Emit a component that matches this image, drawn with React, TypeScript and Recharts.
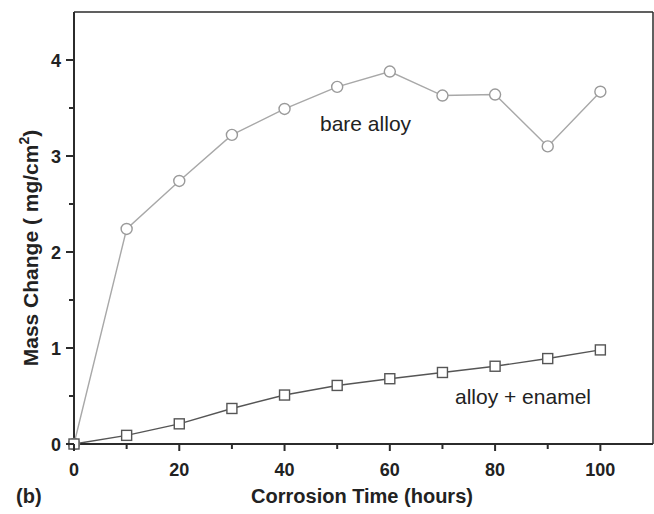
import { LineChart, Line, XAxis, YAxis, ReferenceLine, Customized } from 'recharts';

const hours = [0, 10, 20, 30, 40, 50, 60, 70, 80, 90, 100];
const bareAlloy = [0, 2.24, 2.74, 3.22, 3.49, 3.72, 3.88, 3.63, 3.64, 3.1, 3.67];
const alloyEnamel = [0, 0.09, 0.21, 0.37, 0.51, 0.61, 0.68, 0.745, 0.81, 0.89, 0.98];
const xTicks = [0, 10, 20, 30, 40, 50, 60, 70, 80, 90, 100, 110];
const yTicks = [0, 0.5, 1, 1.5, 2, 2.5, 3, 3.5, 4, 4.5];

const data = hours.map((h, i) => ({ h, bare: bareAlloy[i], enamel: alloyEnamel[i] }));

const FONT = '"Liberation Sans", Arial, sans-serif';
const AXIS = '#2b2b2b';

const XTick = (props: any) => {
  const { x, y, payload } = props;
  const v = payload.value;
  if (v === 110) return null;
  const major = v % 20 === 0;
  return (
    <g>
      <line x1={x} x2={x} y1={y} y2={y + (major ? 7 : 5)} stroke={AXIS} strokeWidth={2} />
      {major && (
        <text x={x} y={y + 32} textAnchor="middle" fontFamily={FONT} fontWeight="bold" fontSize={18} fill="#222">
          {v}
        </text>
      )}
    </g>
  );
};

const YTick = (props: any) => {
  const { x, y, payload } = props;
  const v = payload.value;
  if (v === 4.5) return null;
  const major = Number.isInteger(v);
  return (
    <g>
      <line x1={x} x2={x - (major ? 8 : 5)} y1={y} y2={y} stroke={AXIS} strokeWidth={2} />
      {major && (
        <text x={x - 13} y={y + 6.5} textAnchor="end" fontFamily={FONT} fontWeight="bold" fontSize={18} fill="#222">
          {v}
        </text>
      )}
    </g>
  );
};

const Circle = (props: any) => {
  const { cx, cy } = props;
  return <circle cx={cx} cy={cy} r={5.5} fill="#fff" stroke="#9a9a9a" strokeWidth={1.4} />;
};

const Square = (props: any) => {
  const { cx, cy } = props;
  return <rect x={cx - 5} y={cy - 5} width={10} height={10} fill="#fff" stroke="#555" strokeWidth={1.4} />;
};

const Texts = () => (
  <g fontFamily={FONT} fill="#222">
    <text x={320} y={131} fontSize={21}>bare alloy</text>
    <text x={455} y={404} fontSize={21}>alloy + enamel</text>
    <text x={16} y={503} fontSize={20} fontWeight="bold">(b)</text>
    <text x={362} y={503} fontSize={20} fontWeight="bold" textAnchor="middle">Corrosion Time (hours)</text>
    <text transform="translate(38,248) rotate(-90)" fontSize={21} fontWeight="bold" textAnchor="middle">
      Mass Change ( mg/cm
      <tspan fontSize={14} dy={-9}>2</tspan>
      <tspan dy={9}>)</tspan>
    </text>
  </g>
);

export default function App() {
  return (
    <div style={{ position: 'absolute', left: 0, top: 0, width: 654, height: 514, background: '#fff' }}>
      <LineChart width={654} height={514} data={data} margin={{ top: 12, right: 1, left: 0, bottom: 0 }}>
        <XAxis
          dataKey="h"
          type="number"
          domain={[0, 110]}
          ticks={xTicks}
          interval={0}
          height={70}
          tickSize={0}
          tickMargin={0}
          tick={<XTick />}
          stroke={AXIS}
          strokeWidth={2}
        />
        <YAxis
          type="number"
          domain={[0, 4.5]}
          ticks={yTicks}
          interval={0}
          width={74}
          tickSize={0}
          tickMargin={0}
          tick={<YTick />}
          stroke={AXIS}
          strokeWidth={2}
        />
        <ReferenceLine y={4.5} stroke={AXIS} strokeWidth={1.5} />
        <ReferenceLine x={110} stroke={AXIS} strokeWidth={1.5} />
        <Line
          type="linear"
          dataKey="bare"
          stroke="#a8a8a8"
          strokeWidth={1.4}
          dot={<Circle />}
          isAnimationActive={false}
        />
        <Line
          type="linear"
          dataKey="enamel"
          stroke="#555"
          strokeWidth={1.4}
          dot={<Square />}
          isAnimationActive={false}
        />
        <Customized component={Texts} />
      </LineChart>
    </div>
  );
}
